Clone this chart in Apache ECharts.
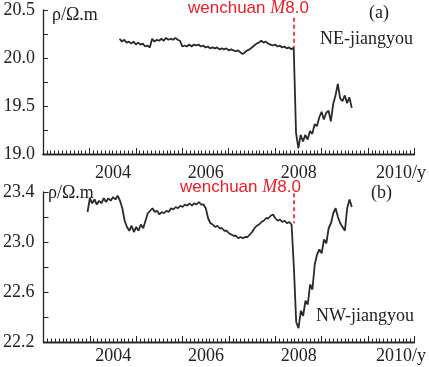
<!DOCTYPE html>
<html>
<head>
    <meta charset="utf-8">
    <script src="https://cdn.jsdelivr.net/npm/echarts@6/dist/echarts.min.js"></script>
    <style>
        html, body { margin: 0; padding: 0; background: #fff; }
    </style>
</head>
<body>
    <div id="chart" style="width: 429px;height:367px;"></div>
    <script type="text/javascript">
        // sample spacing in years
        var step = 0.05;

        // (a) NE-jiangyou, first sample at 2004.65
        var neStart = 2004.65;
        var neRho = [
            20.20, 20.17, 20.19, 20.16, 20.17, 20.15, 20.17, 20.14, 20.16, 20.14,
            20.15, 20.12, 20.13, 20.11, 20.20, 20.17, 20.19, 20.18, 20.20, 20.18,
            20.21, 20.19, 20.20, 20.19, 20.21, 20.19, 20.18, 20.12, 20.13, 20.12,
            20.14, 20.12, 20.14, 20.13, 20.14, 20.12, 20.13, 20.11, 20.12, 20.10,
            20.11, 20.10, 20.11, 20.09, 20.10, 20.09, 20.10, 20.08, 20.09, 20.08,
            20.07, 20.08, 20.06, 20.04, 20.06, 20.08, 20.09, 20.11, 20.13, 20.15,
            20.16, 20.18, 20.16, 20.17, 20.15, 20.14, 20.13, 20.14, 20.12, 20.13,
            20.11, 20.12, 20.10, 20.11, 20.09, 20.11, 19.22, 19.06, 19.20, 19.13,
            19.20, 19.15, 19.24, 19.21, 19.31, 19.29, 19.38, 19.44, 19.36, 19.43,
            19.45, 19.34, 19.52, 19.61, 19.73, 19.58, 19.55, 19.61, 19.53, 19.59,
            19.48
        ];

        // (b) NW-jiangyou, first sample at 2003.95
        var nwStart = 2003.95;
        var nwRho = [
            23.24, 23.35, 23.31, 23.34, 23.30, 23.33, 23.31, 23.35, 23.32, 23.35,
            23.33, 23.36, 23.34, 23.37, 23.33, 23.27, 23.17, 23.12, 23.09, 23.13,
            23.08, 23.12, 23.09, 23.14, 23.11, 23.17, 23.23, 23.25, 23.27, 23.24,
            23.25, 23.22, 23.24, 23.23, 23.25, 23.24, 23.27, 23.26, 23.28, 23.27,
            23.29, 23.28, 23.30, 23.29, 23.31, 23.29, 23.31, 23.30, 23.32, 23.30,
            23.30, 23.27, 23.19, 23.15, 23.14, 23.12, 23.13, 23.11, 23.11, 23.09,
            23.09, 23.07, 23.06, 23.05, 23.05, 23.03, 23.04, 23.03, 23.04, 23.04,
            23.06, 23.08, 23.11, 23.13, 23.14, 23.16, 23.17, 23.19, 23.19, 23.21,
            23.22, 23.19, 23.17, 23.18, 23.16, 23.17, 23.15, 23.16, 23.14, 22.80,
            22.36, 22.31, 22.45, 22.41, 22.53, 22.50, 22.66, 22.62, 22.82, 22.90,
            22.94, 22.91, 23.02, 22.99, 23.11, 23.15, 23.23, 23.27, 23.20, 23.15,
            23.12, 23.09, 23.27, 23.34, 23.28
        ];

        // year labels (drawn in the middle of their year)
        var labelYears = [2004, 2006, 2008, 2010];
        var labelText = ['2004', '2006', '2008', '2010/y'];
        // one small tick per month, 2003 to 2011
        var monthSlots = [];
        for (var m = 0; m <= 96; m++) monthSlots.push(String(m));
        var quakeYear = 2008.40;

        function toPairs(start, vals) {
            return vals.map(function (v, i) {
                return [Math.round((start + i * step) * 1000) / 1000, v];
            });
        }

        var serif = 'Liberation Serif';
        var ink = '#222';
        var red = '#e8202a';

        function xAxisFor(idx, margin) {
            return {
                gridIndex: idx,
                type: 'value',
                min: 2003,
                max: 2011,
                interval: 1,
                axisLine: {lineStyle: {color: ink, width: 1.3}},
                axisTick: {inside: true, length: 6, lineStyle: {color: ink, width: 1}},
                splitLine: {show: false},
                axisLabel: {
                    margin: margin,
                    formatter: function (v) {
                        var k = labelYears.indexOf(Math.round(v));
                        if (k < 0) return '';
                        return (k === labelYears.length - 1 ? '{e|' : '{s|') + labelText[k] + '}';
                    },
                    rich: {
                        // left padding pushes the text half a year to the right of its tick
                        s: {fontFamily: serif, fontSize: 18, color: ink, padding: [0, 0, 0, 47]},
                        e: {fontFamily: serif, fontSize: 18, color: ink, padding: [0, 0, 0, 66]}
                    }
                }
            };
        }

        // overlay axis on the same grid carrying the monthly small ticks
        function monthAxisFor(idx) {
            return {
                gridIndex: idx,
                type: 'category',
                data: monthSlots,
                boundaryGap: false,
                position: 'bottom',
                axisLine: {show: true, onZero: false, lineStyle: {color: ink, width: 1.3}},
                axisTick: {show: true, inside: true, length: 3.5, interval: 0, lineStyle: {color: ink, width: 1}},
                axisLabel: {show: false},
                splitLine: {show: false}
            };
        }

        function yAxisFor(idx, min, max, interval, labelEvery, margin) {
            return {
                gridIndex: idx,
                type: 'value',
                min: min,
                max: max,
                interval: interval,
                axisLine: {show: true, lineStyle: {color: ink, width: 1.3}},
                axisTick: {show: true, inside: true, length: 5, lineStyle: {color: ink, width: 1}},
                splitLine: {show: false},
                axisLabel: {
                    margin: margin,
                    color: ink,
                    fontFamily: serif,
                    fontSize: 18,
                    formatter: function (v) {
                        var k = Math.round((v - min) / interval);
                        return k % labelEvery === 0 ? v.toFixed(1) : '';
                    }
                }
            };
        }

        function quakeLine(top, bottom) {
            return {
                silent: true,
                symbol: 'none',
                label: {show: false},
                lineStyle: {color: red, type: [4, 3], width: 1.6},
                data: [[{coord: [quakeYear, top]}, {coord: [quakeYear, bottom]}]]
            };
        }

        function txt(x, y, text, size) {
            return {
                type: 'text', left: x, top: y, z: 20,
                style: {text: text, fontFamily: serif, fontSize: size, fill: ink}
            };
        }

        function quakeText(x, y) {
            return {
                type: 'text', left: x, top: y, z: 20,
                style: {
                    text: '{a|wenchuan }{m|M}{a|8.0}',
                    rich: {
                        a: {fontFamily: 'Liberation Sans', fontSize: 17, fill: red},
                        m: {fontFamily: serif, fontStyle: 'italic', fontSize: 18, fill: red}
                    }
                }
            };
        }

        var option = {
            animation: false,
            backgroundColor: '#fff',
            grid: [
                {left: 43, top: 10, width: 373, height: 144},
                {left: 43, top: 192, width: 373, height: 150}
            ],
            xAxis: [xAxisFor(0, 10), xAxisFor(1, 5), monthAxisFor(0), monthAxisFor(1)],
            yAxis: [
                yAxisFor(0, 19, 20.5, 0.25, 2, 8),
                yAxisFor(1, 22.2, 23.4, 0.2, 2, 9)
            ],
            series: [
                {
                    name: 'NE-jiangyou',
                    type: 'line',
                    xAxisIndex: 0,
                    yAxisIndex: 0,
                    showSymbol: false,
                    sampling: 'none',
                    lineStyle: {color: '#2a2a2a', width: 1.8},
                    data: toPairs(neStart, neRho),
                    markLine: quakeLine(20.42, 20.11)
                },
                {
                    name: 'NW-jiangyou',
                    type: 'line',
                    xAxisIndex: 1,
                    yAxisIndex: 1,
                    showSymbol: false,
                    sampling: 'none',
                    lineStyle: {color: '#2a2a2a', width: 1.8},
                    data: toPairs(nwStart, nwRho),
                    markLine: quakeLine(23.39, 23.15)
                }
            ],
            graphic: [
                txt(52, 6, 'ρ/Ω.m', 18),
                quakeText(188, -1),
                txt(369, 4, '(a)', 18),
                txt(320, 30, 'NE-jiangyou', 18),
                txt(48, 184, 'ρ/Ω.m', 18),
                quakeText(180, 178),
                txt(371, 184, '(b)', 18),
                txt(316, 307, 'NW-jiangyou', 18)
            ]
        };

        var myChart = echarts.init(document.getElementById('chart'));
        myChart.setOption(option);
    </script>
</body>
</html>
